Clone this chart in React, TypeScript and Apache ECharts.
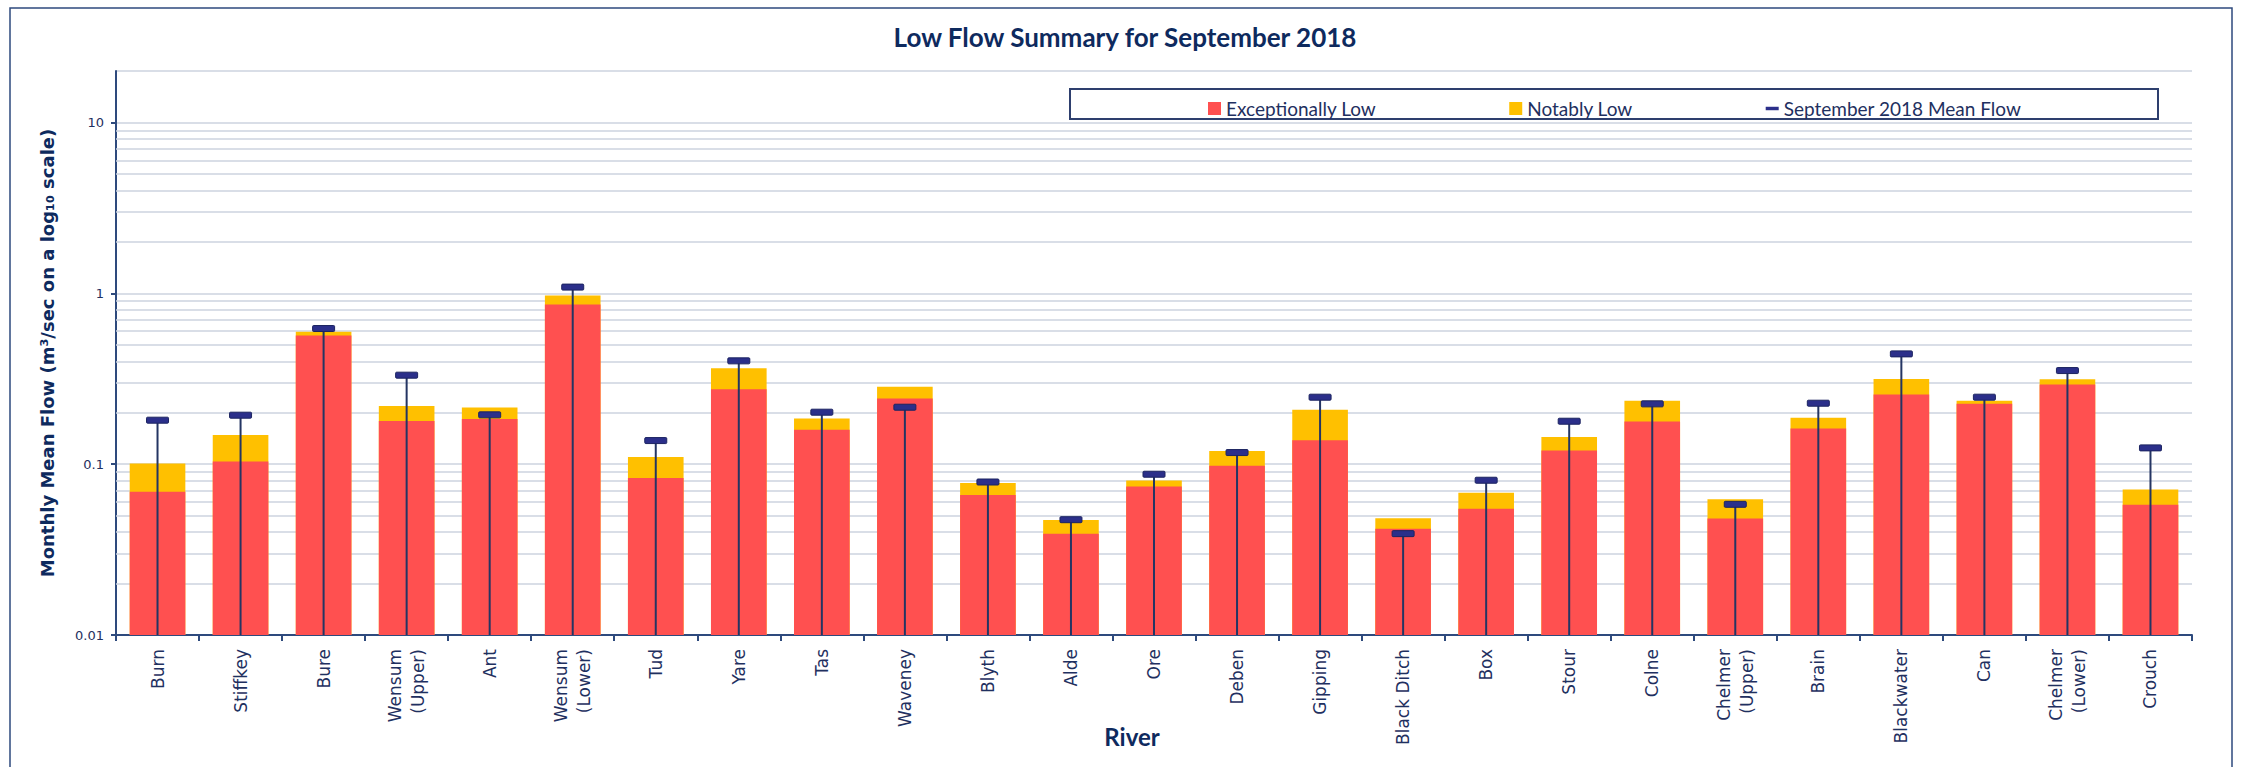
import React, { useEffect, useRef } from "react";
import * as echarts from "echarts";

const rivers = [
  "Burn", "Stiffkey", "Bure", "Wensum\n(Upper)", "Ant", "Wensum\n(Lower)", "Tud", "Yare", "Tas",
  "Waveney", "Blyth", "Alde", "Ore", "Deben", "Gipping", "Black Ditch", "Box", "Stour", "Colne",
  "Chelmer\n(Upper)", "Brain", "Blackwater", "Can", "Chelmer\n(Lower)", "Crouch",
];

// Upper limit of the "Exceptionally Low" band (m3/s)
const exceptionallyLow = [
  0.069, 0.1035, 0.566, 0.179, 0.184, 0.86, 0.083, 0.2745, 0.159,
  0.242, 0.066, 0.0392, 0.0739, 0.098, 0.138, 0.0419, 0.0549, 0.12, 0.1775,
  0.048, 0.1615, 0.2555, 0.2253, 0.2922, 0.0579,
];

// Upper limit of the "Notably Low" band (m3/s)
const notablyLow = [
  0.101, 0.1483, 0.5946, 0.2193, 0.2143, 0.97, 0.1102, 0.3642, 0.1849,
  0.2834, 0.0775, 0.0471, 0.0801, 0.1195, 0.2078, 0.0482, 0.0679, 0.1443, 0.2346,
  0.0623, 0.1866, 0.3155, 0.2346, 0.3141, 0.071,
];

// September 2018 mean flow (m3/s)
const meanFlow = [
  0.1808, 0.1934, 0.622, 0.3317, 0.1943, 1.087, 0.1374, 0.4023, 0.2014,
  0.2154, 0.0786, 0.0473, 0.0873, 0.1169, 0.2465, 0.0392, 0.0805, 0.1783, 0.2253,
  0.0582, 0.2273, 0.4419, 0.2465, 0.353, 0.1245,
];

const yMin = 0.01;
const yMax = 20;
const minorGridValues = [
  0.02, 0.03, 0.04, 0.05, 0.06, 0.07, 0.08, 0.09,
  0.2, 0.3, 0.4, 0.5, 0.6, 0.7, 0.8, 0.9,
  2, 3, 4, 5, 6, 7, 8, 9,
];

const NAVY = "#1F3060";
const GRID = "#CDD3DF";

export default function App() {
  const ref = useRef<HTMLDivElement>(null);

  useEffect(() => {
    document.body.style.margin = "0";
    const chart = echarts.init(ref.current!, undefined, { renderer: "svg" });
    const option: any = {
      animation: false,
      backgroundColor: "#ffffff",
      title: {
        text: "Low Flow Summary for September 2018",
        left: 1120,
        textAlign: "center",
        top: 19,
        textStyle: { fontFamily: "Lato", fontWeight: "bold", fontSize: 26, color: "#0E2A5E" },
      },
      graphic: [
        {
          type: "rect",
          shape: { x: 10, y: 8, width: 2222, height: 800 },
          style: { fill: "none", stroke: "#2E4A7D", lineWidth: 1.5 },
          silent: true,
        },
        {
          type: "rect",
          shape: { x: 1070, y: 89, width: 1088, height: 30 },
          style: { fill: "#ffffff", stroke: "#2E3F6E", lineWidth: 2 },
          z: 10,
          silent: true,
        },
      ],
      legend: {
        left: 1203,
        top: 94,
        z: 20,
        itemGap: 133,
        itemWidth: 13,
        itemHeight: 13,
        itemTextGap: 6,
        textStyle: { fontFamily: "Lato", fontSize: 19, color: NAVY },
        data: [
          { name: "Exceptionally Low", icon: "rect" },
          { name: "Notably Low", icon: "rect" },
          {
            name: "September 2018 Mean Flow",
            icon: "path://M0,0 M0,4.5 L15,4.5 L15,8.5 L0,8.5 Z M15,13",
          },
        ],
      },
      grid: {
        left: 116,
        top: 71,
        right: 61,
        bottom: 132,
        containLabel: false,
        outerBoundsMode: "none",
      },
      xAxis: {
        type: "category",
        data: rivers,
        boundaryGap: true,
        name: "River",
        nameLocation: "middle",
        nameGap: 89,
        nameMoveOverlap: false,
        nameTextStyle: {
          fontFamily: "Lato",
          fontWeight: "bold",
          fontSize: 24,
          color: "#0E2A5E",
          padding: [0, 44, 0, 0],
        },
        axisLine: { show: true, lineStyle: { color: "#2E4A7D", width: 2 } },
        axisTick: { show: true, interval: 0, length: 6, lineStyle: { color: "#2E4A7D", width: 2 } },
        axisLabel: {
          interval: 0,
          rotate: 90,
          margin: 14,
          fontFamily: "DejaVu Sans",
          fontSize: 17,
          lineHeight: 23,
          color: NAVY,
        },
        splitLine: { show: false },
      },
      yAxis: {
        type: "log",
        logBase: 10,
        min: yMin,
        max: yMax,
        startValue: yMin,
        name: "Monthly Mean Flow (m³/sec on a log₁₀ scale)",
        nameLocation: "middle",
        nameGap: 60,
        nameMoveOverlap: false,
        nameTextStyle: { fontFamily: "DejaVu Sans", fontWeight: "bold", fontSize: 18, color: "#0E2A5E" },
        axisLine: { show: true, lineStyle: { color: "#2E4A7D", width: 2 } },
        axisTick: { show: true, length: 5, lineStyle: { color: "#2E4A7D", width: 2 } },
        axisLabel: {
          showMaxLabel: false,
          margin: 12,
          fontFamily: "DejaVu Sans",
          fontSize: 13,
          color: NAVY,
          formatter: (v: number) => String(v),
        },
        splitLine: { show: true, lineStyle: { color: GRID, width: 1.5 } },
      },
      series: [
        {
          name: "Notably Low",
          type: "bar",
          data: notablyLow,
          barWidth: "67%",
          barGap: "-100%",
          itemStyle: { color: "#FFC000" },
          z: 2,
          markLine: {
            silent: true,
            z: 1,
            symbol: "none",
            label: { show: false },
            lineStyle: { color: GRID, width: 1.5, type: "solid" },
            data: minorGridValues.map((v) => ({ yAxis: v })),
          },
        },
        {
          name: "Exceptionally Low",
          type: "bar",
          data: exceptionallyLow,
          barWidth: "67%",
          barGap: "-100%",
          itemStyle: { color: "#FF5050" },
          z: 3,
        },
        {
          name: "September 2018 Mean Flow",
          type: "custom",
          z: 4,
          itemStyle: { color: "#2B2F8A" },
          encode: { x: 0, y: 1 },
          data: meanFlow.map((v, i) => [i, v]),
          renderItem: (params: any, api: any) => {
            const idx = api.value(0);
            const v = api.value(1);
            const top = api.coord([idx, v]);
            const bottom = api.coord([idx, yMin]);
            return {
              type: "group",
              children: [
                {
                  type: "line",
                  shape: { x1: top[0], y1: top[1], x2: bottom[0], y2: bottom[1] },
                  style: { stroke: "#243563", lineWidth: 2 },
                },
                {
                  type: "rect",
                  shape: { x: top[0] - 11, y: top[1] - 3, width: 22, height: 6, r: 1 },
                  style: { fill: "#2B2F8A", stroke: "#1C2460", lineWidth: 1 },
                },
              ],
            };
          },
        },
      ],
    };
    chart.setOption(option);
    return () => chart.dispose();
  }, []);

  return <div ref={ref} style={{ width: 2253, height: 767 }} />;
}
